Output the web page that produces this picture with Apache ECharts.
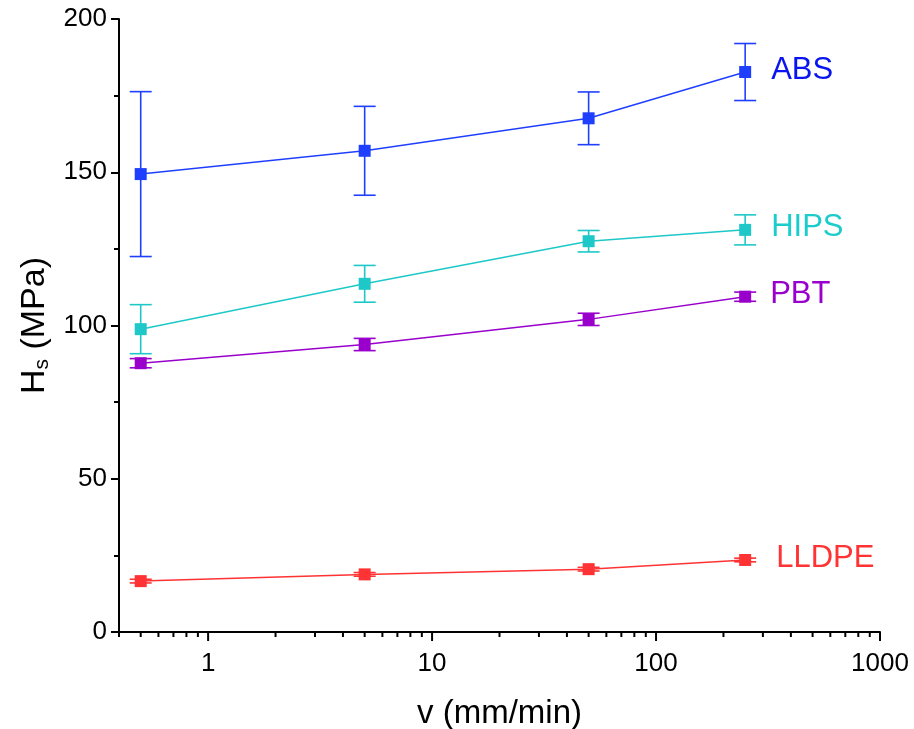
<!DOCTYPE html>
<html>
<head>
<meta charset="utf-8">
<script src="https://cdn.jsdelivr.net/npm/echarts@6/dist/echarts.min.js"></script>
<style>html,body{margin:0;padding:0;background:#fff}#c{width:914px;height:729px}</style>
</head>
<body>
<div id="c"></div>
<script>
// ---- data ----
const speeds = [0.5, 5, 50, 250];
const seriesNames = ['ABS', 'HIPS', 'PBT', 'LLDPE'];
const absVals = [149.4, 157.0, 167.6, 182.7];
const absErr = [26.9, 14.5, 8.6, 9.3];
const hipsVals = [98.8, 113.6, 127.5, 131.2];
const hipsErr = [8.0, 6.0, 3.5, 4.9];
const pbtVals = [87.7, 93.8, 102.0, 109.4];
const pbtErr = [1.5, 2.0, 2.0, 1.5];
const lldpeVals = [16.6, 18.8, 20.5, 23.5];
const lldpeErr = [0.6, 0.6, 0.6, 0.6];
const xMajorTicks = [1, 10, 100, 1000];
const xMinorTicks = [0.4, 0.5, 0.6, 0.7, 0.8, 0.9, 2, 3, 4, 5, 6, 7, 8, 9, 20, 30, 40, 50, 60, 70, 80, 90, 200, 300, 400, 500, 600, 700, 800, 900];
const yTicks = [0, 50, 100, 150, 200];

const colors = ['#1f3fff', '#1ec8c8', '#9900cc', '#ff3333'];
const labelColors = ['#0a14f0', '#1ccccc', '#9900cc', '#ff3333'];
const labelDist = [20, 20, 19, 25];
const vals = [absVals, hipsVals, pbtVals, lldpeVals];
const errs = [absErr, hipsErr, pbtErr, lldpeErr];

const FONT = 'Liberation Sans, Arial, sans-serif';
const chart = echarts.init(document.getElementById('c'));

const series = [];
vals.forEach((v, i) => {
  // error bars
  series.push({
    type: 'custom',
    name: seriesNames[i] + '_err',
    data: speeds.map((s, k) => [s, v[k] - errs[i][k], v[k] + errs[i][k]]),
    clip: false,
    z: 2,
    renderItem: function (params, api) {
      const lo = api.coord([api.value(0), api.value(1)]);
      const hi = api.coord([api.value(0), api.value(2)]);
      const hw = 11;
      const st = { stroke: colors[i], lineWidth: 1.6 };
      return {
        type: 'group',
        children: [
          { type: 'line', shape: { x1: lo[0], y1: lo[1], x2: hi[0], y2: hi[1] }, style: st },
          { type: 'line', shape: { x1: lo[0] - hw, y1: lo[1], x2: lo[0] + hw, y2: lo[1] }, style: st },
          { type: 'line', shape: { x1: hi[0] - hw, y1: hi[1], x2: hi[0] + hw, y2: hi[1] }, style: st }
        ]
      };
    }
  });
  series.push({
    type: 'line',
    name: seriesNames[i],
    data: speeds.map((s, k) => [s, v[k]]),
    symbol: 'rect',
    symbolSize: 12,
    z: 3,
    lineStyle: { color: colors[i], width: 1.5 },
    itemStyle: { color: colors[i] },
    label: {
      show: true,
      position: 'right',
      distance: labelDist[i],
      offset: [0, -2],
      color: labelColors[i],
      fontFamily: FONT,
      fontSize: 31,
      formatter: function (p) { return p.dataIndex === speeds.length - 1 ? seriesNames[i] : ''; }
    },
    emphasis: { disabled: true }
  });
});

// x-axis ticks (major + minor) drawn through the axis scale
function tickSeries(list, len) {
  return {
    type: 'custom',
    data: list.map(t => [t, 0]),
    clip: false,
    silent: true,
    z: 1,
    renderItem: function (params, api) {
      const p = api.coord([api.value(0), 0]);
      return { type: 'line', shape: { x1: p[0], y1: p[1], x2: p[0], y2: p[1] + len }, style: { stroke: '#000', lineWidth: 2 } };
    }
  };
}
series.push(tickSeries(xMajorTicks, 9));
series.push(tickSeries(xMinorTicks, 5));

chart.setOption({
  animation: false,
  backgroundColor: '#fff',
  grid: { left: 119, right: 34, top: 19, bottom: 97, containLabel: false, outerBoundsMode: 'none' },
  xAxis: {
    type: 'log',
    logBase: 10,
    min: 0.4,
    max: 1000,
    name: 'v (mm/min)',
    nameLocation: 'middle',
    nameGap: 65,
    nameTextStyle: { fontFamily: FONT, fontSize: 33, color: '#000' },
    axisLine: { lineStyle: { color: '#000', width: 2 } },
    axisTick: { show: false },
    splitLine: { show: false },
    axisLabel: {
      interval: 0,
      margin: 19,
      fontFamily: FONT,
      fontSize: 26,
      color: '#000',
      formatter: function (v) {
        const l = Math.log10(v);
        return Math.abs(l - Math.round(l)) < 1e-6 ? String(Math.round(Math.pow(10, Math.round(l)) * 1000) / 1000) : '';
      }
    }
  },
  yAxis: {
    type: 'value',
    min: yTicks[0],
    max: yTicks[yTicks.length - 1],
    interval: 50,
    name: '{a|H}{b|s}{a| (MPa)}',
    nameLocation: 'middle',
    nameRotate: 90,
    nameGap: 66,
    nameTextStyle: {
      fontFamily: FONT,
      color: '#000',
      rich: {
        a: { fontFamily: FONT, fontSize: 34, color: '#000' },
        b: { fontFamily: FONT, fontSize: 21, color: '#000', padding: [16, 0, 0, 0] }
      }
    },
    axisLine: { show: true, lineStyle: { color: '#000', width: 2 } },
    axisTick: { show: true, length: 8, lineStyle: { color: '#000', width: 2 } },
    minorTick: { show: true, splitNumber: 2, length: 5, lineStyle: { color: '#000', width: 2 } },
    splitLine: { show: false },
    axisLabel: { margin: 12, fontFamily: FONT, fontSize: 26, color: '#000' }
  },
  series: series
});
</script>
</body>
</html>
